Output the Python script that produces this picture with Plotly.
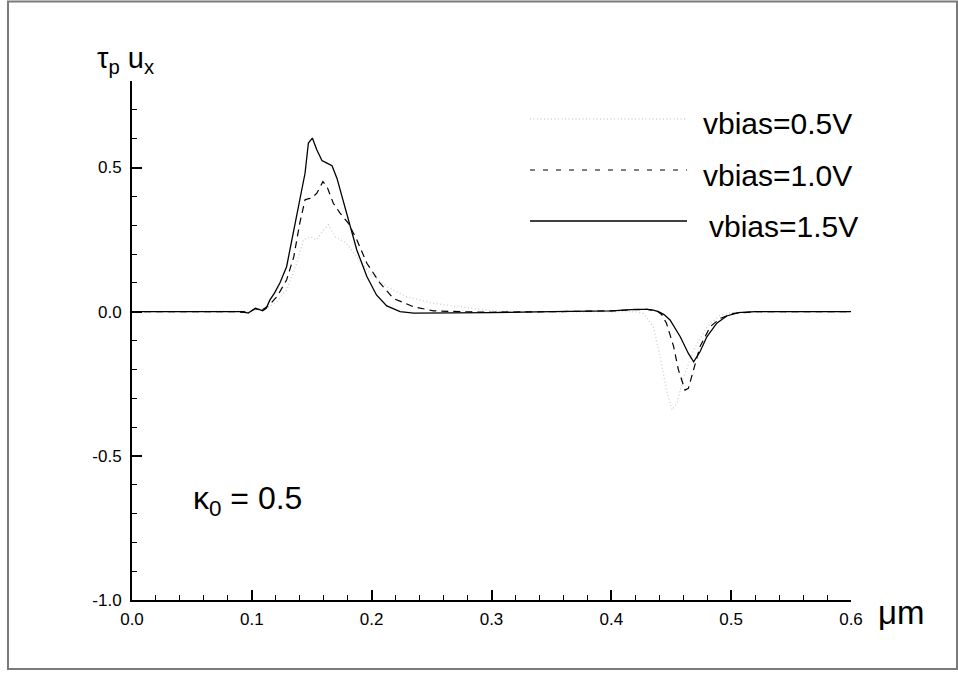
import plotly.graph_objects as go

# ---- data (x in micrometres, y = tau_p * u_x) ----
x_05 = [0, 0.09, 0.10, 0.11, 0.115, 0.122, 0.129, 0.1376, 0.143, 0.1488, 0.154, 0.16, 0.164, 0.1694,
        0.179, 0.1876, 0.1986, 0.2126, 0.229, 0.2515, 0.274, 0.29, 0.30, 0.32, 0.36, 0.40, 0.42,
        0.4268, 0.435, 0.4407, 0.446, 0.4505, 0.4547, 0.4603, 0.4687, 0.48, 0.491, 0.50, 0.52, 0.6]
y_05 = [0, 0, 0.002, 0.008, 0.018, 0.04, 0.075, 0.168, 0.249, 0.26, 0.249, 0.284, 0.301, 0.26,
        0.237, 0.19, 0.133, 0.087, 0.052, 0.029, 0.017, 0.008, 0.003, 0, 0, 0, 0,
        -0.006, -0.052, -0.156, -0.272, -0.341, -0.318, -0.226, -0.133, -0.052, -0.012, -0.004, 0, 0]

x_10 = [0, 0.085, 0.097, 0.1026, 0.108, 0.112, 0.116, 0.121, 0.129, 0.135, 0.140, 0.1444, 0.1475,
        0.150, 0.1543, 0.1593, 0.1627, 0.168, 0.1736, 0.1805, 0.1876, 0.196, 0.207, 0.218, 0.235,
        0.2515, 0.274, 0.30, 0.35, 0.40, 0.42, 0.43, 0.438, 0.442, 0.446, 0.452, 0.456, 0.4615,
        0.4643, 0.4687, 0.474, 0.4825, 0.491, 0.502, 0.52, 0.6]
y_10 = [0, 0, -0.004, 0.010, 0.004, 0.015, 0.030, 0.052, 0.11, 0.19, 0.307, 0.388, 0.392,
        0.394, 0.411, 0.451, 0.434, 0.376, 0.342, 0.307, 0.249, 0.168, 0.099, 0.046, 0.017,
        0.003, 0.0, -0.002, 0, 0.003, 0.007, 0.008, 0.003, -0.01, -0.04, -0.121, -0.202, -0.272,
        -0.266, -0.202, -0.121, -0.052, -0.023, -0.006, 0, 0]

x_15 = [0, 0.05, 0.085, 0.093, 0.097, 0.100, 0.103, 0.106, 0.109, 0.112, 0.115, 0.119, 0.1235,
        0.129, 0.1346, 0.140, 0.1444, 0.1472, 0.1505, 0.1543, 0.1585, 0.1627, 0.1669, 0.171,
        0.1766, 0.182, 0.1876, 0.196, 0.204, 0.2126, 0.2237, 0.235, 0.26, 0.30, 0.35, 0.40, 0.42,
        0.43, 0.435, 0.4393, 0.444, 0.449, 0.4575, 0.4643, 0.4687, 0.474, 0.4797, 0.488, 0.4963,
        0.506, 0.52, 0.55, 0.6]
y_15 = [0, 0, 0.001, 0.0, -0.005, 0.004, 0.012, 0.008, 0.003, 0.012, 0.040, 0.065, 0.10,
        0.156, 0.272, 0.388, 0.48, 0.585, 0.602, 0.561, 0.524, 0.515, 0.506, 0.463,
        0.376, 0.295, 0.214, 0.122, 0.058, 0.020, 0.0, -0.005, -0.005, -0.003, 0, 0.003, 0.008,
        0.008, 0.005, 0.0, -0.01, -0.029, -0.087, -0.145, -0.174, -0.139, -0.087, -0.040, -0.015,
        -0.003, 0, 0, 0]

series_names = ["vbias=0.5V", "vbias=1.0V", "vbias=1.5V"]
x_ticks = [0.0, 0.1, 0.2, 0.3, 0.4, 0.5, 0.6]
y_ticks = [-1.0, -0.5, 0.0, 0.5]
y_ticktext = ["-1.0", "-0.5", "0.0", "0.5"]

FONT = "Liberation Sans, Arial, sans-serif"
styles = [dict(color="#d2d2d2", width=1.5, dash="1px,2.5px"),
          dict(color="black", width=1.2, dash="7px,5px"),
          dict(color="black", width=1.3, dash="solid")]
legend_dash = ["1px,2.5px", "5px,8px", "solid"]

fig = go.Figure()
for xs, ys, nm, st in zip([x_05, x_10, x_15], [y_05, y_10, y_15], series_names, styles):
    fig.add_trace(go.Scatter(x=xs, y=ys, mode="lines", name=nm, line=st, showlegend=False))

L, R, T, B = 132, 107, 81, 73
W, H = 958, 673
PW, PH = W - L - R, H - T - B


def px(xp):
    return (xp - L) / PW


def py(yp):
    return (H - B - yp) / PH


shapes = []
annotations = []
# outer frame
shapes.append(dict(type="rect", xref="paper", yref="paper", x0=px(8), x1=px(957), y0=py(669), y1=py(1.5),
                   line=dict(color="#7a7a7a", width=2), fillcolor="rgba(0,0,0,0)", layer="below"))
# legend
leg_y = [119, 170, 221]
leg_tx = [701, 701, 707]
for i, nm in enumerate(series_names):
    shapes.append(dict(type="line", xref="paper", yref="paper", x0=px(530), x1=px(687), y0=py(leg_y[i]),
                       y1=py(leg_y[i]), line=dict(color=styles[i]["color"], width=styles[i]["width"],
                                                  dash=legend_dash[i])))
    annotations.append(dict(text=nm, xref="paper", yref="paper", x=px(leg_tx[i]), y=py(leg_y[i] + 5),
                            xanchor="left", yanchor="middle", showarrow=False,
                            font=dict(family=FONT, size=30, color="black")))

annotations.append(dict(text="τ<sub>p</sub> u<sub>x</sub>", xref="paper", yref="paper", x=px(95), y=py(60),
                        xanchor="left", yanchor="middle", showarrow=False,
                        font=dict(family=FONT, size=29, color="black")))
annotations.append(dict(text="μm", xref="paper", yref="paper", x=px(876), y=py(612),
                        xanchor="left", yanchor="middle", showarrow=False,
                        font=dict(family=FONT, size=33, color="black")))
annotations.append(dict(text="κ<sub>0</sub> = 0.5", xref="paper", yref="paper", x=px(191), y=py(500),
                        xanchor="left", yanchor="middle", showarrow=False,
                        font=dict(family=FONT, size=32, color="black")))

fig.update_layout(
    width=W, height=H,
    margin=dict(l=L, r=R, t=T, b=B, pad=0),
    paper_bgcolor="white", plot_bgcolor="white",
    font=dict(family=FONT, size=17, color="black"),
    shapes=shapes, annotations=annotations,
)
fig.update_xaxes(range=[0, 0.6], tickvals=x_ticks, tickformat=".1f", showgrid=False, zeroline=False,
                 showline=True, linewidth=2, linecolor="black", ticks="inside", ticklen=10, tickwidth=1.5,
                 tickcolor="black", ticklabelstandoff=3, tickfont=dict(size=17),
                 minor=dict(ticks="inside", ticklen=5, tickwidth=1, tickcolor="black", dtick=0.02, tick0=0,
                            showgrid=False))
fig.update_yaxes(range=[-1.0, 0.8], tickvals=y_ticks, ticktext=y_ticktext, showgrid=False, zeroline=False,
                 showline=True, linewidth=2, linecolor="black", ticks="inside", ticklen=10, tickwidth=1.5,
                 tickcolor="black", ticklabelstandoff=5, tickfont=dict(size=17),
                 minor=dict(ticks="inside", ticklen=5, tickwidth=1, tickcolor="black", dtick=0.1, tick0=0,
                            showgrid=False))

fig.write_html("out.html", config={"displayModeBar": False},
               post_script="document.body.style.margin='0px';")
